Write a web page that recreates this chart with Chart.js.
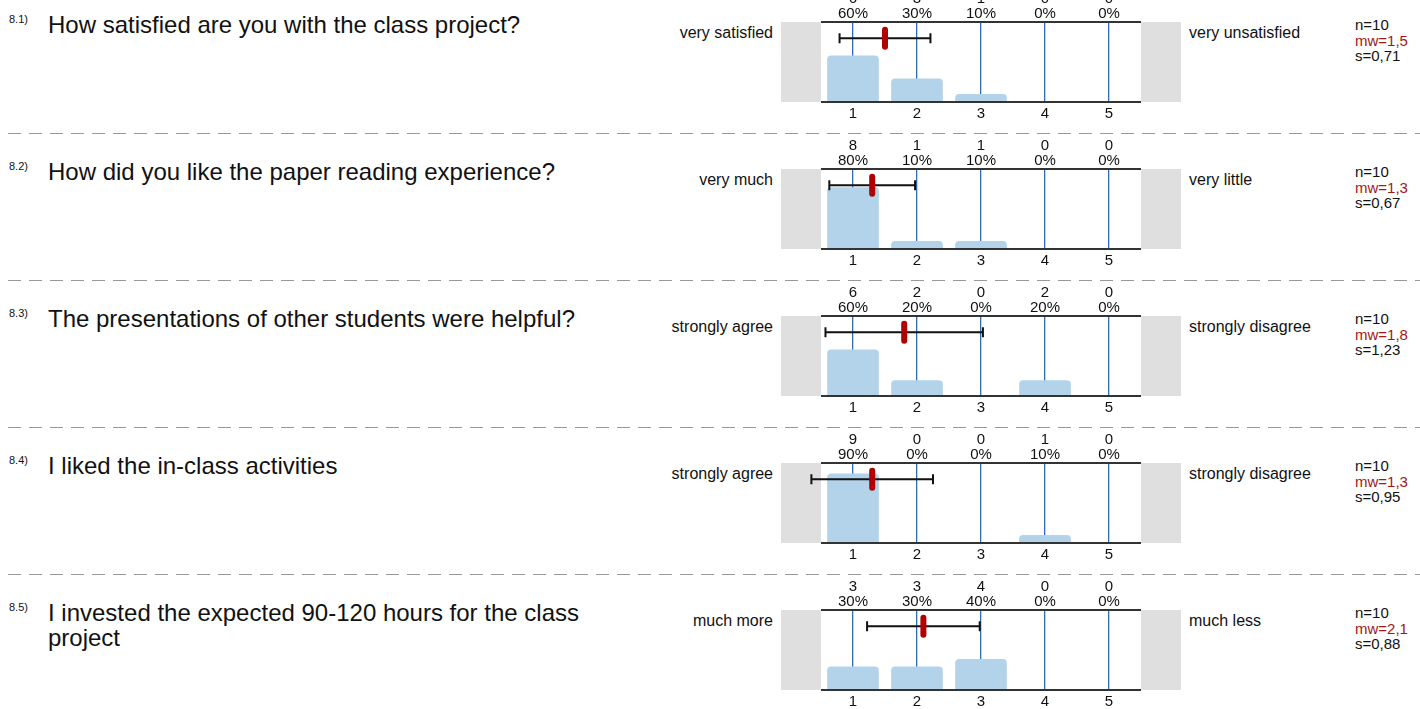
<!DOCTYPE html>
<html>
<head>
<meta charset="utf-8">
<script src="https://cdn.jsdelivr.net/npm/chart.js@4.4.0/dist/chart.umd.min.js"></script>
<style>
  body { margin: 0; width: 1420px; height: 709px; overflow: hidden; background: #fff; position: relative;
         font-family: Arial, "Liberation Sans", sans-serif; color: #111; }
  .qnum { position: absolute; left: 9px; font-size: 11px; line-height: 11px; }
  .question { position: absolute; left: 48px; width: 540px; font-size: 24px; line-height: 25px; }
  .left-label { position: absolute; right: 647px; font-size: 16px; line-height: 16px; white-space: nowrap; text-align: right; }
  .right-label { position: absolute; left: 1189px; font-size: 16px; line-height: 16px; white-space: nowrap; }
  .stats { position: absolute; left: 1355px; font-size: 15px; line-height: 15.5px; }
  .stats .mw { color: #a01818; }
  .sep { position: absolute; left: 8px; width: 1412px; height: 1px;
         background: repeating-linear-gradient(to right, #999 0 13px, transparent 13px 21px); }
  canvas { position: absolute; left: 770px; }
</style>
</head>
<body>
<script>
const questionNumbers = ['8.1)', '8.2)', '8.3)', '8.4)', '8.5)'];
const questions = [
    'How satisfied are you with the class project?',
    'How did you like the paper reading experience?',
    'The presentations of other students were helpful?',
    'I liked the in-class activities',
    'I invested the expected 90-120 hours for the class project'
];
const leftLabels = ['very satisfied', 'very much', 'strongly agree', 'strongly agree', 'much more'];
const rightLabels = ['very unsatisfied', 'very little', 'strongly disagree', 'strongly disagree', 'much less'];
const scaleTicks = [1, 2, 3, 4, 5];
const counts = [
    [6, 3, 1, 0, 0],
    [8, 1, 1, 0, 0],
    [6, 2, 0, 2, 0],
    [9, 0, 0, 1, 0],
    [3, 3, 4, 0, 0]
];
const percents = [
    [60, 30, 10, 0, 0],
    [80, 10, 10, 0, 0],
    [60, 20, 0, 20, 0],
    [90, 0, 0, 10, 0],
    [30, 30, 40, 0, 0]
];
const nValues = [10, 10, 10, 10, 10];
const means = [1.5, 1.3, 1.8, 1.3, 2.1];
const sds = [0.71, 0.67, 1.23, 0.95, 0.88];

const errorBarLevel = 83;   // y value (percent scale) where mean/sd bar sits

const frame = {
    id: 'frame',
    beforeDatasetsDraw(chart) {
        const { ctx, chartArea, scales: { x } } = chart;
        const l = x.getPixelForValue(0.5);
        const r = x.getPixelForValue(5.5);
        ctx.save();
        ctx.fillStyle = '#dfdfdf';
        ctx.fillRect(chartArea.left, chartArea.top, l - chartArea.left, chartArea.height);
        ctx.fillRect(r, chartArea.top, chartArea.right - r, chartArea.height);
        ctx.restore();
    },
    afterDraw(chart, args, opts) {
        const { ctx, chartArea, scales: { x, y } } = chart;
        const l = x.getPixelForValue(0.5);
        const r = x.getPixelForValue(5.5);
        ctx.save();
        ctx.strokeStyle = '#333';
        ctx.lineWidth = 2;
        ctx.beginPath();
        ctx.moveTo(l, chartArea.top); ctx.lineTo(r, chartArea.top);
        ctx.moveTo(l, chartArea.bottom); ctx.lineTo(r, chartArea.bottom);
        ctx.stroke();

        const yy = y.getPixelForValue(errorBarLevel);
        const x0 = x.getPixelForValue(opts.mean - opts.sd);
        const x1 = x.getPixelForValue(opts.mean + opts.sd);
        const xm = x.getPixelForValue(opts.mean);
        ctx.strokeStyle = '#111';
        ctx.lineWidth = 2;
        ctx.beginPath();
        ctx.moveTo(x0, yy); ctx.lineTo(x1, yy);
        ctx.moveTo(x0, yy - 5); ctx.lineTo(x0, yy + 5);
        ctx.moveTo(x1, yy - 5); ctx.lineTo(x1, yy + 5);
        ctx.stroke();

        ctx.strokeStyle = '#b00000';
        ctx.lineWidth = 6;
        ctx.lineCap = 'round';
        ctx.beginPath();
        ctx.moveTo(xm, yy - 8.5); ctx.lineTo(xm, yy + 8.5);
        ctx.stroke();
        ctx.restore();
    }
};

const tickFont = { family: 'Arial, "Liberation Sans", sans-serif', size: 15, lineHeight: 1.0 };

const addDiv = (cls, top, html) => {
    const d = document.createElement('div');
    d.className = cls;
    d.style.top = top + 'px';
    d.innerHTML = html;
    document.body.appendChild(d);
    return d;
};

const fmt = (v, d) => v.toFixed(d).replace('.', ',');

questions.forEach((q, i) => {
    const T = 22 + 147 * i;

    addDiv('qnum', T - 8, questionNumbers[i]);
    addDiv('question', T - 10, q);
    addDiv('left-label', T + 3, leftLabels[i]);
    addDiv('right-label', T + 3, rightLabels[i]);
    addDiv('stats', T - 5,
        `n=${nValues[i]}<br><span class="mw">mw=${fmt(means[i], 1)}</span><br>s=${fmt(sds[i], 2)}`);
    if (i < questions.length - 1) addDiv('sep', T + 111, '');

    const canvas = document.createElement('canvas');
    canvas.width = 422;
    canvas.height = 140;
    canvas.style.top = (T - 40) + 'px';
    document.body.appendChild(canvas);

    new Chart(canvas, {
        type: 'bar',
        data: {
            datasets: [{
                data: scaleTicks.map((v, k) => ({ x: v, y: percents[i][k] })),
                backgroundColor: '#b3d3ea',
                barThickness: 51,
                borderRadius: 4,
                xAxisID: 'x',
                yAxisID: 'y'
            }]
        },
        options: {
            responsive: false,
            animation: false,
            devicePixelRatio: 1,
            layout: { padding: { left: 11, right: 11, top: 0, bottom: 0 } },
            plugins: {
                legend: { display: false },
                tooltip: { enabled: false },
                frame: { mean: means[i], sd: sds[i] }
            },
            scales: {
                x: {
                    type: 'linear',
                    position: 'bottom',
                    min: -0.125,
                    max: 6.125,
                    offset: false,
                    z: 1,
                    afterBuildTicks: s => { s.ticks = scaleTicks.map(v => ({ value: v })); },
                    afterFit: s => { s.height = 20; },
                    grid: { color: '#2e6db4', lineWidth: 1.3, drawTicks: false, offset: false },
                    border: { display: false },
                    ticks: {
                        padding: 4, color: '#111', font: tickFont, autoSkip: false, maxRotation: 0,
                        callback: (v, k) => String(scaleTicks[k])
                    }
                },
                x2: {
                    type: 'linear',
                    position: 'top',
                    min: -0.125,
                    max: 6.125,
                    offset: false,
                    afterBuildTicks: s => { s.ticks = scaleTicks.map(v => ({ value: v })); },
                    afterFit: s => { s.height = 40; },
                    grid: { display: false, drawTicks: false, offset: false },
                    border: { display: false },
                    ticks: {
                        padding: 1, color: '#111', font: tickFont, autoSkip: false, maxRotation: 0,
                        callback: (v, k) => [String(counts[i][k]), percents[i][k] + '%']
                    }
                },
                y: { display: false, min: 0, max: 104 }
            }
        },
        plugins: [frame]
    });
});
</script>
</body>
</html>
